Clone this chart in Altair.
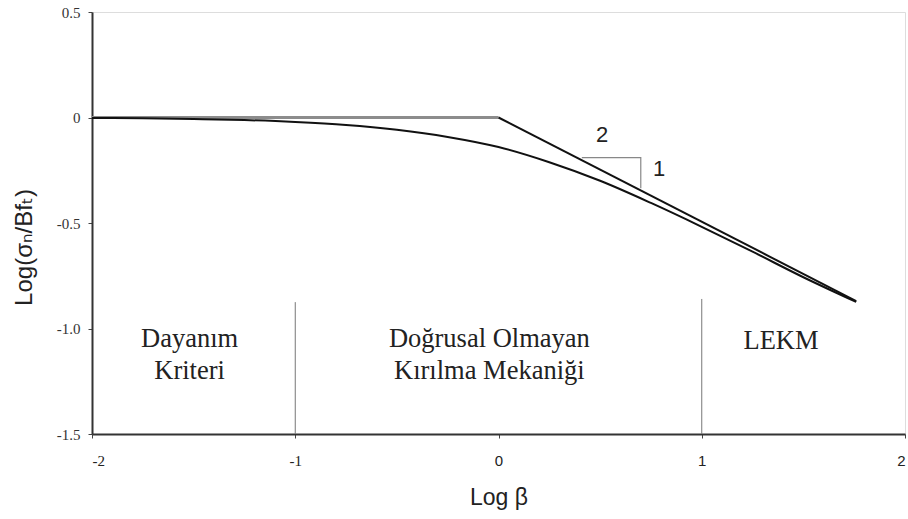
import altair as alt
import pandas as pd

# ---- tick values / labels ----
x_ticks = [-2, -1, 0, 1, 2]
x_tick_labels = ["-2", "-1", "0", "1", "2"]
y_ticks = [0.5, 0.0, -0.5, -1.0, -1.5]
y_tick_labels = ["0.5", "0", "-0.5", "-1.0", "-1.5"]

# ---- series ----
strength_x = [-2.0, 0.0]
strength_y = [0.0, 0.0]

lefm_x = [0.0, 1.76]
lefm_y = [0.0, -0.87]

curve_x = [-2.0, -1.75, -1.5, -1.25, -1.0, -0.75, -0.5, -0.25, 0.0,
           0.25, 0.5, 0.75, 1.0, 1.25, 1.5, 1.76]
curve_y = [-0.002, -0.004, -0.007, -0.012, -0.021, -0.035, -0.058, -0.092, -0.140,
           -0.212, -0.300, -0.405, -0.518, -0.636, -0.757, -0.874]

divider_x = [-1.0, 1.0]
divider_top = [-0.875, -0.86]
divider_bottom = [-1.5, -1.5]

triangle_x = [0.41, 0.70, 0.70]
triangle_y = [-0.19, -0.19, -0.335]

slope_label_text = ["2", "1"]
slope_label_x = [0.51, 0.79]
slope_label_y = [-0.085, -0.245]

region_text = ["Dayanım\nKriteri", "Doğrusal Olmayan\nKırılma Mekaniği", "LEKM"]
region_x = [-1.52, -0.045, 1.39]
region_y = [-1.05, -1.05, -1.06]

x_title = "Log β"
y_title = "Log(σₙ/Bfₜ)"

SERIF = "Times New Roman, Liberation Serif, DejaVu Serif, serif"
SANS = "Arial, Liberation Sans, DejaVu Sans, sans-serif"

# ---- tables ----
df_strength = pd.DataFrame({"x": strength_x, "y": strength_y})
df_lefm = pd.DataFrame({"x": lefm_x, "y": lefm_y})
df_curve = pd.DataFrame({"x": curve_x, "y": curve_y})
df_div = pd.DataFrame({"x": divider_x, "y": divider_top, "y2": divider_bottom})
df_tri = pd.DataFrame({"x": triangle_x, "y": triangle_y, "o": list(range(len(triangle_x)))})
df_slope = pd.DataFrame({"x": slope_label_x, "y": slope_label_y, "t": slope_label_text})
df_region = pd.DataFrame({"x": region_x, "y": region_y, "t": region_text})

xs = alt.Scale(domain=[-2, 2], nice=False, zero=False)
ys = alt.Scale(domain=[-1.5, 0.5], nice=False, zero=False)

x_label_expr = " : ".join(
    [f"datum.value == {v} ? '{l}'" for v, l in zip(x_ticks, x_tick_labels)]) + " : ''"
y_label_expr = " : ".join(
    [f"datum.value == {v} ? '{l}'" for v, l in zip(y_ticks, y_tick_labels)]) + " : ''"

x_axis = alt.Axis(values=x_ticks, labelExpr=x_label_expr, title=x_title, grid=False,
                  labelFont={"condition": {"test": "datum.value < 0", "value": SERIF},
                             "value": SANS},
                  labelFontSize=15, labelColor="#222", labelPadding=15, tickSize=4,
                  tickColor="#444", domainColor="#333", domainWidth=2,
                  titleFont=SANS, titleFontSize=23, titleFontWeight="normal",
                  titleColor="#222", titleY=52, titleBaseline="top")
y_axis = alt.Axis(values=y_ticks, labelExpr=y_label_expr, title=y_title, grid=False,
                  labelFont=SERIF, labelFontSize=15, labelColor="#333",
                  labelPadding=8, tickSize=4, tickColor="#444",
                  domainColor="#333", domainWidth=2,
                  titleFont=SANS, titleFontSize=24, titleFontWeight="normal",
                  titleColor="#222", titleX=-68, titleY=235, titleBaseline="middle",
                  titleAngle=270)

X = alt.X("x:Q", scale=xs, axis=x_axis)
Y = alt.Y("y:Q", scale=ys, axis=y_axis)

strength = alt.Chart(df_strength).mark_line(color="#8c8c8c", strokeWidth=3).encode(x=X, y=Y)
curve = alt.Chart(df_curve).mark_line(color="#111", strokeWidth=2, interpolate="monotone").encode(x=X, y=Y)
lefm = alt.Chart(df_lefm).mark_line(color="#111", strokeWidth=2).encode(x=X, y=Y)
dividers = alt.Chart(df_div).mark_rule(color="#777", strokeWidth=1).encode(x=X, y=Y, y2="y2:Q")
triangle = alt.Chart(df_tri).mark_line(color="#888", strokeWidth=1.2).encode(x=X, y=Y, order="o:Q")
slope_labels = alt.Chart(df_slope).mark_text(font=SANS, fontSize=22,
                                             color="#222", baseline="middle",
                                             align="center").encode(x=X, y=Y, text="t:N")
regions = alt.Chart(df_region).mark_text(font=SERIF, fontSize=26.5,
                                         color="#222", baseline="middle", align="center",
                                         lineBreak="\n", lineHeight=32).encode(x=X, y=Y, text="t:N")

chart = alt.layer(strength, curve, lefm, dividers, triangle, slope_labels, regions).properties(
    width=813, height=422,
    autosize=alt.AutoSizeParams(type="none"),
    padding={"left": 92, "top": 12, "right": 3, "bottom": 85},
).configure_view(stroke="#777", strokeWidth=2).configure(background="white")

chart.save("out.html", embed_options={"renderer": "svg", "actions": False})
